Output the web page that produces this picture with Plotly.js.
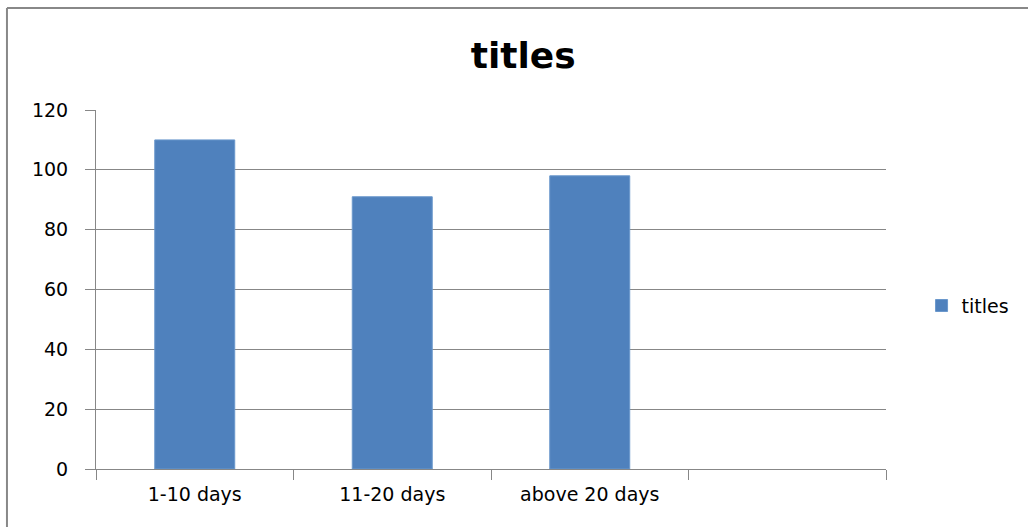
<!DOCTYPE html>
<html>
<head>
<meta charset="utf-8">
<script src="https://cdn.plot.ly/plotly-3.0.1.min.js"></script>
<style>
html,body{margin:0;padding:0;background:#fff;}
#chart{width:1028px;height:527px;}
</style>
</head>
<body>
<div id="chart"></div>
<script>
const categories = ["1-10 days", "11-20 days", "above 20 days", " "];
const values = [110, 91, 98, null];
const seriesName = "titles";
const chartTitle = "titles";
const yTicks = [0, 20, 40, 60, 80, 100, 120];

const FONT = "'DejaVu Sans', 'Noto Sans', sans-serif";
const trace = {
  type: "bar",
  x: categories,
  y: values,
  name: seriesName,
  marker: {color: "#4f81bd", line: {color: "#6b98cc", width: 1}},
  showlegend: true
};

const layout = {
  width: 1028, height: 527,
  margin: {l: 96, r: 142, t: 110, b: 58},
  paper_bgcolor: "#ffffff",
  plot_bgcolor: "#ffffff",
  title: {text: "<b>" + chartTitle + "</b>", x: 0.509, xanchor: "center", xref: "container",
          y: 0.895, yanchor: "middle", font: {family: FONT, size: 36, color: "#000"}},
  bargap: 0.595,
  xaxis: {
    type: "category",
    range: [-0.5, 3.5],
    showline: true, linecolor: "#878787", linewidth: 1,
    ticks: "outside", ticklen: 10, tickcolor: "#878787", tickson: "boundaries",
    showgrid: false,
    tickfont: {family: FONT, size: 19, color: "#000"},
    ticklabelstandoff: 8,
    fixedrange: true
  },
  yaxis: {
    range: [0, 120],
    tickvals: yTicks,
    ticktext: yTicks.map(String),
    showline: true, linecolor: "#878787", linewidth: 1,
    ticks: "outside", ticklen: 10, tickcolor: "#878787",
    showgrid: true, gridcolor: "#878787", gridwidth: 1,
    zeroline: false,
    tickfont: {family: FONT, size: 19, color: "#000"},
    ticklabelstandoff: 13,
    fixedrange: true
  },
  legend: {
    x: 1.045, xanchor: "left", y: 0.455, yanchor: "middle",
    font: {family: FONT, size: 19, color: "#000"},
    bgcolor: "rgba(0,0,0,0)",
    itemwidth: 30
  },
  shapes: [
    {type: "line", xref: "paper", yref: "paper", x0: -0.1127, x1: -0.1127, y0: 1.284, y1: -0.3,
     line: {color: "#888888", width: 2}},
    {type: "line", xref: "paper", yref: "paper", x0: -0.1127, x1: 1.2, y0: 1.284, y1: 1.284,
     line: {color: "#888888", width: 2}}
  ]
};

Plotly.newPlot("chart", [trace], layout, {displayModeBar: false, staticPlot: true});
</script>
</body>
</html>
